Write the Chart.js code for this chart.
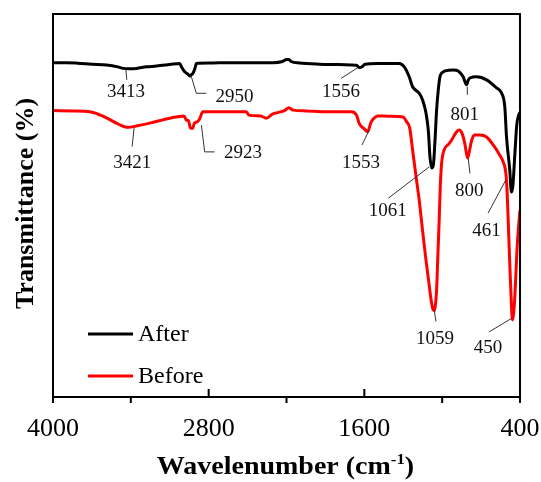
<!DOCTYPE html>
<html><head><meta charset="utf-8">
<script src="https://cdn.jsdelivr.net/npm/chart.js@4"></script>
<style>html,body{margin:0;padding:0;background:#fff;}</style>
</head><body>
<canvas id="c" width="541" height="482"></canvas>
<script>
// ---- data ----
const seriesNames = ['After', 'Before'];
const afterWave = [4000,3900,3792,3700,3587,3500,3459,3413,3356,3280,3202,3100,3023,3010,2985,2960,2946,2935,2921,2905,2895,2800,2638,2450,2305,2231,2200,2180,2165,2100,1950,1800,1700,1660,1638,1615,1595,1500,1400,1331,1292,1254,1228,1177,1150,1125,1107,1094,1081,1068,1055,1043,1030,1017,991,950,914,876,838,812,798,786,735,658,581,543,517,504,479,466,455,440,425,412,400];
const afterT    = [87.3,87.3,87.1,86.9,86.7,86.2,85.8,85.7,85.8,86.2,86.4,86.8,87.1,86.2,84.9,84.3,83.8,84.1,84.5,85.9,87.1,87.2,87.3,87.3,87.3,87.6,88.1,88.1,87.6,87.2,86.9,86.8,86.7,86.6,86.0,86.3,86.9,87.1,87.1,87.1,86.2,83.6,81.0,79.3,77.5,74.2,69.7,62.7,59.8,60.6,67.1,74.9,80.2,83.6,84.9,85.3,85.4,85.1,83.6,81.5,82.8,83.3,83.6,82.8,80.7,79.4,75.7,67.9,59.3,53.5,55.1,63.2,71.0,73.4,74.4];
const beforeWave = [4000,3850,3715,3600,3500,3421,3350,3254,3100,2990,2972,2955,2940,2923,2910,2890,2870,2845,2700,2510,2490,2400,2356,2305,2220,2180,2150,2050,1900,1700,1660,1638,1600,1574,1549,1525,1500,1400,1300,1275,1250,1228,1200,1177,1150,1125,1100,1085,1072,1062,1052,1043,1033,1023,1014,1004,985,950,927,890,869,845,825,804,790,772,750,709,658,600,560,530,510,500,492,479,466,458,449,440,422,410,400];
const beforeT    = [74.8,74.7,74.5,73.1,71.3,70.4,70.8,71.5,72.8,73.4,72.3,72.1,70.2,70.2,71.5,71.8,72.6,74.5,74.5,74.5,73.6,73.4,72.8,73.9,74.7,75.5,74.9,74.7,74.5,74.5,73.6,71.3,70.0,69.3,71.7,72.8,73.4,73.3,73.1,71.9,70.2,64.5,57.2,51.4,43.1,35.8,29.2,25.3,23.0,22.5,24.0,27.9,37.1,46.2,55.4,61.1,64.5,66.0,67.1,69.2,69.7,68.7,66.1,62.4,64.2,67.1,68.4,68.4,67.9,65.5,63.4,61.4,58.7,54.0,47.0,35.0,24.0,20.1,21.9,26.1,39.2,44.9,48.8];
const xTickLabels = [4000, 2800, 1600, 400];
const xMinorTicks = [3400, 2200, 1000];
const peakLabels = ['3413','2950','1556','3421','2923','1553','1061','801','800','461','1059','450'];

// ---- annotation placement (data units), separate from the data ----
const peakPlacement = [
  {line:[[3438,85.4],[3431,82.8]], at:[3438,79.7]},
  {line:[[2933,83.6],[2895,79.3],[2818,79.3]], at:[2600,78.4]},
  {line:[[1654,85.9],[1779,83.2]], at:[1779,79.7]},
  {line:[[3375,70.2],[3390,65.4]], at:[3390,61.2]},
  {line:[[2856,71.0],[2831,64.0],[2754,64.0]], at:[2536,63.8]},
  {line:[[1562,69.7],[1618,65.8]], at:[1625,61.2]},
  {line:[[1099,60.1],[1415,51.9]], at:[1419,48.6]},
  {line:[[806,81.0],[806,78.9]], at:[825,73.6]},
  {line:[[799,62.3],[786,58.4]], at:[792,53.9]},
  {line:[[509,56.7],[646,48.0]], at:[658,43.4]},
  {line:[[1061,22.7],[1048,19.7]], at:[1056,15.1]},
  {line:[[466,20.5],[638,17.0]], at:[646,12.7]}
];

const SERIF = "'Liberation Serif','Times New Roman',serif";
const colors = ['#000000', '#ff0000'];

const toXY = (ws, ts) => ws.map((w, i) => ({x: w, y: ts[i]}));

const decor = {
  id: 'decor',
  afterDraw(chart) {
    const {ctx, chartArea: a, scales: {x, y}} = chart;
    ctx.save();
    // frame
    ctx.strokeStyle = '#000'; ctx.lineWidth = 2;
    ctx.strokeRect(a.left, a.top, a.right - a.left, a.bottom - a.top);
    // ticks
    ctx.beginPath();
    xTickLabels.forEach(v => { const p = x.getPixelForValue(v); ctx.moveTo(p, a.bottom); ctx.lineTo(p, a.bottom - 8); });
    xMinorTicks.forEach(v => { const p = x.getPixelForValue(v); ctx.moveTo(p, a.bottom); ctx.lineTo(p, a.bottom + 6); });
    ctx.moveTo(a.left, a.bottom); ctx.lineTo(a.left, a.bottom + 6);
    ctx.moveTo(a.right, a.bottom); ctx.lineTo(a.right, a.bottom + 6);
    ctx.stroke();
    // peak annotations
    ctx.strokeStyle = '#333'; ctx.lineWidth = 1;
    ctx.fillStyle = '#111';
    ctx.font = '19px ' + SERIF;
    ctx.textAlign = 'center'; ctx.textBaseline = 'middle';
    peakPlacement.forEach((p, i) => {
      ctx.beginPath();
      p.line.forEach((pt, j) => {
        const px = x.getPixelForValue(pt[0]), py = y.getPixelForValue(pt[1]);
        if (j === 0) ctx.moveTo(px, py); else ctx.lineTo(px, py);
      });
      ctx.stroke();
      ctx.fillText(peakLabels[i], x.getPixelForValue(p.at[0]), y.getPixelForValue(p.at[1]));
    });
    // legend
    ctx.font = '24px ' + SERIF;
    ctx.textAlign = 'left';
    const legY = [a.bottom - 63, a.bottom - 21];
    seriesNames.forEach((n, i) => {
      ctx.strokeStyle = colors[i]; ctx.lineWidth = 3;
      ctx.beginPath(); ctx.moveTo(a.left + 35, legY[i]); ctx.lineTo(a.left + 80, legY[i]); ctx.stroke();
      ctx.fillStyle = '#000';
      ctx.fillText(n, a.left + 85, legY[i] + 1);
    });
    // x title with superscript (slightly stretched like the reference)
    const main = 'Wavelenumber (cm', sup = '-1', close = ')';
    const fMain = 'bold 25px ' + SERIF, fSup = 'bold 15px ' + SERIF;
    ctx.font = fMain; const w1 = ctx.measureText(main).width, w3 = ctx.measureText(close).width;
    ctx.font = fSup; const w2 = ctx.measureText(sup).width;
    const total = w1 + w2 + w3;
    const stretch = 1.12;
    ctx.save();
    ctx.translate((a.left + a.right) / 2 - 1, 474);
    ctx.scale(stretch, 1);
    let sx = -total / 2;
    ctx.textBaseline = 'alphabetic'; ctx.fillStyle = '#000';
    ctx.font = fMain; ctx.fillText(main, sx, 0);
    ctx.font = fSup; ctx.fillText(sup, sx + w1, -10);
    ctx.font = fMain; ctx.fillText(close, sx + w1 + w2, 0);
    ctx.restore();
    // y title
    ctx.translate(26, (a.top + a.bottom) / 2 - 2);
    ctx.rotate(-Math.PI / 2);
    ctx.textAlign = 'center'; ctx.textBaseline = 'middle';
    ctx.font = 'bold 26px ' + SERIF;
    ctx.fillText('Transmittance (%)', 0, 0);
    ctx.restore();
  }
};

new Chart(document.getElementById('c'), {
  type: 'line',
  data: {
    datasets: [
      {label: seriesNames[0], data: toXY(afterWave, afterT), borderColor: colors[0], borderWidth: 3, pointRadius: 0, cubicInterpolationMode: 'monotone', fill: false},
      {label: seriesNames[1], data: toXY(beforeWave, beforeT), borderColor: colors[1], borderWidth: 3, pointRadius: 0, cubicInterpolationMode: 'monotone', fill: false}
    ]
  },
  options: {
    responsive: false,
    animation: false,
    devicePixelRatio: 1,
    layout: {padding: {top: 14, right: 21, left: 0, bottom: 0}},
    plugins: {legend: {display: false}, tooltip: {enabled: false}},
    scales: {
      x: {
        type: 'linear', reverse: true, min: 400, max: 4000,
        afterBuildTicks: s => { s.ticks = xTickLabels.map(v => ({value: v})); },
        afterFit: s => { s.height = 85; s.paddingLeft = 0; s.paddingRight = 0; },
        ticks: {font: {family: SERIF, size: 26}, color: '#000', padding: 17, maxRotation: 0, autoSkip: false,
                callback: v => String(v)},
        grid: {display: false, drawTicks: false},
        border: {display: false}
      },
      y: {
        min: 0, max: 100,
        afterFit: s => { s.width = 53; },
        ticks: {display: false},
        grid: {display: false, drawTicks: false},
        border: {display: false}
      }
    }
  },
  plugins: [decor]
});
</script>
</body></html>
